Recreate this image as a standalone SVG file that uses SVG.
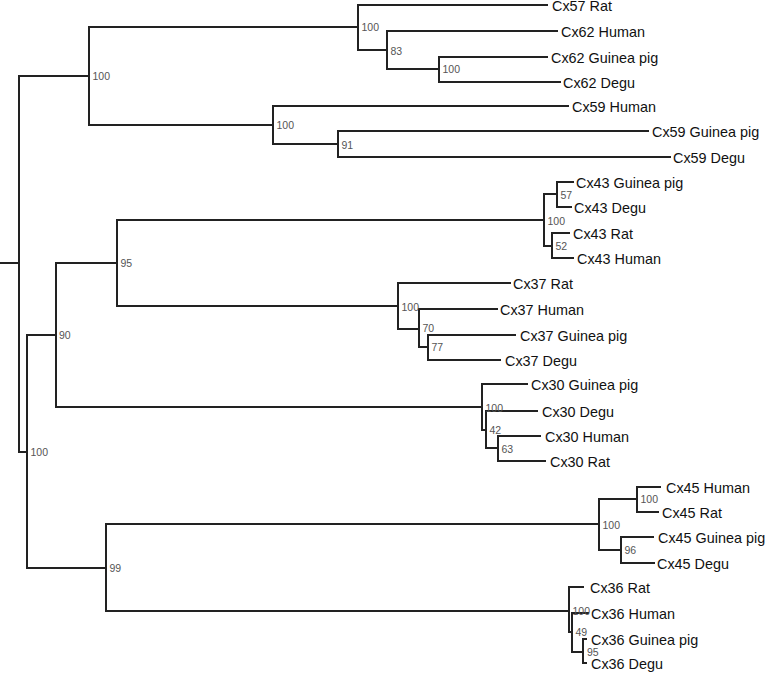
<svg xmlns="http://www.w3.org/2000/svg" width="767" height="673" viewBox="0 0 767 673">
<style>
.br{fill:none;stroke:#222;stroke-width:2;stroke-linecap:square}
.lf{font-family:"Liberation Sans",Arial,sans-serif;font-size:14.4px;fill:#111}
.bs{font-family:"Liberation Sans",Arial,sans-serif;font-size:10.5px;fill:#555}
</style>
<rect width="767" height="673" fill="#fff"/>
<g id="connectors" class="br">
<path d="M0,263H19M19,76V452M19,76H89M19,452H27"/>
<path d="M89,27V125M89,27H358M89,125H273"/>
<path d="M358,5V50M358,5H547M358,50H387"/>
<path d="M387,31V69M387,31H557M387,69H439"/>
<path d="M439,57V82M439,57H547M439,82H560"/>
<path d="M273,106V144M273,106H568M273,144H338"/>
<path d="M338,131V157M338,131H648M338,157H670"/>
<path d="M27,335V568M27,335H56M27,568H106"/>
<path d="M56,263V407M56,263H117M56,407H482"/>
<path d="M117,220V306M117,220H544M117,306H398"/>
<path d="M544,194V246M544,194H557M544,246H552"/>
<path d="M557,182V207M557,182H573M557,207H571"/>
<path d="M552,233V258M552,233H569M552,258H573"/>
<path d="M398,283V329M398,283H510M398,329H419"/>
<path d="M419,309V347M419,309H497M419,347H428"/>
<path d="M428,335V360M428,335H515M428,360H500"/>
<path d="M482,384V430M482,384H527M482,430H486"/>
<path d="M486,411V448M486,411H537M486,448H498"/>
<path d="M498,436V461M498,436H540M498,461H545"/>
<path d="M106,524V611M106,524H599M106,611H569"/>
<path d="M599,499V550M599,499H637M599,550H621"/>
<path d="M637,487V512M637,487H660M637,512H658"/>
<path d="M621,537V563M621,537H653M621,563H654"/>
<path d="M569,587V632M569,587H583M569,632H572"/>
<path d="M572,613V652M572,613H588M572,652H583"/>
<path d="M583,639V663M583,639H586M583,663H586"/>
</g>
<g id="n_a" class="bs"><text x="92.5" y="80">100</text></g>
<g id="n_57" class="bs"><text x="361.5" y="31">100</text></g>
<g id="n_83" class="bs"><text x="390.5" y="55">83</text></g>
<g id="n_62" class="bs"><text x="442.5" y="73">100</text></g>
<g id="n_59" class="bs"><text x="276.5" y="129">100</text></g>
<g id="n_91" class="bs"><text x="341.5" y="149">91</text></g>
<g id="n_b" class="bs"><text x="30.5" y="456">100</text></g>
<g id="n_90" class="bs"><text x="59" y="339">90</text></g>
<g id="n_95" class="bs"><text x="120.5" y="267">95</text></g>
<g id="n_43" class="bs"><text x="547.5" y="225">100</text></g>
<g id="n_57b" class="bs"><text x="560.5" y="199">57</text></g>
<g id="n_52" class="bs"><text x="555.5" y="250">52</text></g>
<g id="n_37" class="bs"><text x="401.5" y="311">100</text></g>
<g id="n_70" class="bs"><text x="422.5" y="332">70</text></g>
<g id="n_77" class="bs"><text x="431.5" y="351">77</text></g>
<g id="n_30" class="bs"><text x="485.5" y="412">100</text></g>
<g id="n_42" class="bs"><text x="489.5" y="434">42</text></g>
<g id="n_63" class="bs"><text x="501.5" y="453">63</text></g>
<g id="n_99" class="bs"><text x="109.5" y="572">99</text></g>
<g id="n_45" class="bs"><text x="602.5" y="529">100</text></g>
<g id="n_45a" class="bs"><text x="640.5" y="503">100</text></g>
<g id="n_96" class="bs"><text x="624.5" y="554">96</text></g>
<g id="n_36" class="bs"><text x="572.5" y="615">100</text></g>
<g id="n_49" class="bs"><text x="575.5" y="636">49</text></g>
<g id="n_95b" class="bs"><text x="587" y="656">95</text></g>
<g id="leaf_cx57_rat" class="lf"><text x="552" y="10.5">Cx57 Rat</text></g>
<g id="leaf_cx62_human" class="lf"><text x="561" y="36.5">Cx62 Human</text></g>
<g id="leaf_cx62_gp" class="lf"><text x="551" y="62.5">Cx62 Guinea pig</text></g>
<g id="leaf_cx62_degu" class="lf"><text x="563" y="87.5">Cx62 Degu</text></g>
<g id="leaf_cx59_human" class="lf"><text x="572" y="111.5">Cx59 Human</text></g>
<g id="leaf_cx59_gp" class="lf"><text x="652" y="136.5">Cx59 Guinea pig</text></g>
<g id="leaf_cx59_degu" class="lf"><text x="673" y="162.5">Cx59 Degu</text></g>
<g id="leaf_cx43_gp" class="lf"><text x="576" y="187.5">Cx43 Guinea pig</text></g>
<g id="leaf_cx43_degu" class="lf"><text x="574" y="212.5">Cx43 Degu</text></g>
<g id="leaf_cx43_rat" class="lf"><text x="573" y="238.5">Cx43 Rat</text></g>
<g id="leaf_cx43_human" class="lf"><text x="577" y="263.5">Cx43 Human</text></g>
<g id="leaf_cx37_rat" class="lf"><text x="513" y="288.5">Cx37 Rat</text></g>
<g id="leaf_cx37_human" class="lf"><text x="500" y="314.5">Cx37 Human</text></g>
<g id="leaf_cx37_gp" class="lf"><text x="520" y="340.5">Cx37 Guinea pig</text></g>
<g id="leaf_cx37_degu" class="lf"><text x="505" y="365.5">Cx37 Degu</text></g>
<g id="leaf_cx30_gp" class="lf"><text x="531" y="389.5">Cx30 Guinea pig</text></g>
<g id="leaf_cx30_degu" class="lf"><text x="542" y="416.5">Cx30 Degu</text></g>
<g id="leaf_cx30_human" class="lf"><text x="545" y="441.5">Cx30 Human</text></g>
<g id="leaf_cx30_rat" class="lf"><text x="550" y="466.5">Cx30 Rat</text></g>
<g id="leaf_cx45_human" class="lf"><text x="666" y="492.5">Cx45 Human</text></g>
<g id="leaf_cx45_rat" class="lf"><text x="662" y="517.5">Cx45 Rat</text></g>
<g id="leaf_cx45_gp" class="lf"><text x="658" y="542.5">Cx45 Guinea pig</text></g>
<g id="leaf_cx45_degu" class="lf"><text x="657" y="568.5">Cx45 Degu</text></g>
<g id="leaf_cx36_rat" class="lf"><text x="590" y="592.5">Cx36 Rat</text></g>
<g id="leaf_cx36_human" class="lf"><text x="591" y="618.5">Cx36 Human</text></g>
<g id="leaf_cx36_gp" class="lf"><text x="591" y="644.5">Cx36 Guinea pig</text></g>
<g id="leaf_cx36_degu" class="lf"><text x="591" y="668.5">Cx36 Degu</text></g>
</svg>
